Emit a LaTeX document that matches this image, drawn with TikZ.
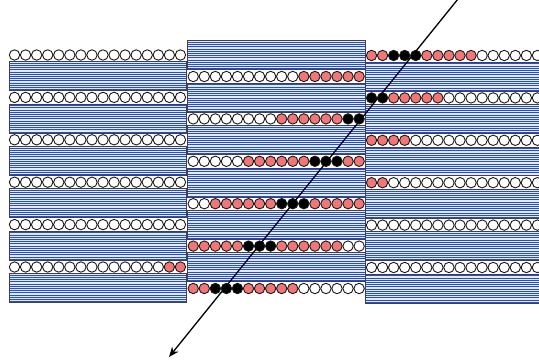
\documentclass[tikz,border=0pt]{standalone}
\usetikzlibrary{arrows.meta}
\definecolor{cw}{RGB}{255,255,255}
\definecolor{cr}{RGB}{242,118,118}
\definecolor{cb}{RGB}{0,0,0}
\definecolor{hatchblue}{RGB}{35,75,220}
\definecolor{hatchtint}{RGB}{228,235,252}
\tikzset{
  bead/.style={draw=black!90, line width=0.9pt},
  hatchline/.style={draw=hatchblue, line width=0.75pt},
  boxline/.style={draw=black!75, line width=0.9pt},
  shear/.style={draw=black, line width=1.3pt, -{Stealth[length=10pt,width=8pt]}}
}
\newcommand\beadrow[3]{%
  \foreach \c [count=\i from 0] in {#3} {
    \draw[bead, fill=c\c] ({#1+5.53+11.06*\i},#2) circle (5.2);
  }}
\newcommand\hatchbox[4]{%
  \fill[hatchtint] (#1,#2) rectangle (#3,#4);
  \foreach \k in {0,...,12} {
    \draw[hatchline] (#1,{#2+1.5+2.2*\k}) -- (#3,{#2+1.5+2.2*\k});
  }
  \draw[boxline] (#1,#2) rectangle (#3,#4);}
\begin{document}
\begin{tikzpicture}[x=1pt,y=-1pt]
\clip (0,0) rectangle (539,364);
\fill[white] (0,0) rectangle (539,364);
% left column
\foreach \ry in {55,97.4,139.8,182.2,224.6} {
  \beadrow{9}{\ry}{w,w,w,w,w,w,w,w,w,w,w,w,w,w,w,w}
}
\beadrow{9}{267}{w,w,w,w,w,w,w,w,w,w,w,w,w,w,r,r}
\foreach \ry in {55,97.4,139.8,182.2,224.6,267} {
  \hatchbox{9}{\ry+6.7}{186}{\ry+35.6}
}
% middle column
\foreach \ry in {76.5,118.9,161.3,203.7,246.1,288.5} {
  \hatchbox{187.5}{\ry-35.6}{365}{\ry-6.7}
}
\beadrow{187.7}{76.5}{w,w,w,w,w,w,w,w,w,w,r,r,r,r,r,r}
\beadrow{187.7}{118.9}{w,w,w,w,w,w,w,w,r,r,r,r,r,r,b,b}
\beadrow{187.7}{161.3}{w,w,w,w,w,r,r,r,r,r,r,b,b,b,r,r}
\beadrow{187.7}{203.7}{w,w,r,r,r,r,r,r,b,b,b,r,r,r,r,r}
\beadrow{187.7}{246.1}{r,r,r,r,r,b,b,b,r,r,r,r,r,r,w,w}
\beadrow{187.7}{288.5}{r,r,b,b,b,r,r,r,r,r,w,w,w,w,w,w}
% right column
\foreach \ry in {55.5,97.9,140.3,182.7,225.1,267.5} {
  \hatchbox{365.5}{\ry+6.7}{560}{\ry+35.6}
}
\beadrow{366}{55.5}{r,r,b,b,b,r,r,r,r,r,w,w,w,w,w,w}
\beadrow{366}{97.9}{b,b,r,r,r,r,r,w,w,w,w,w,w,w,w,w}
\beadrow{366}{140.3}{r,r,r,r,w,w,w,w,w,w,w,w,w,w,w,w}
\beadrow{366}{182.7}{r,r,w,w,w,w,w,w,w,w,w,w,w,w,w,w}
\beadrow{366}{225.1}{w,w,w,w,w,w,w,w,w,w,w,w,w,w,w,w}
\beadrow{366}{267.5}{w,w,w,w,w,w,w,w,w,w,w,w,w,w,w,w}
% shear direction
\coordinate (start) at (458,-1);
\coordinate (tip) at (169,357);
\draw[shear] (start) -- (tip);
\end{tikzpicture}
\end{document}
